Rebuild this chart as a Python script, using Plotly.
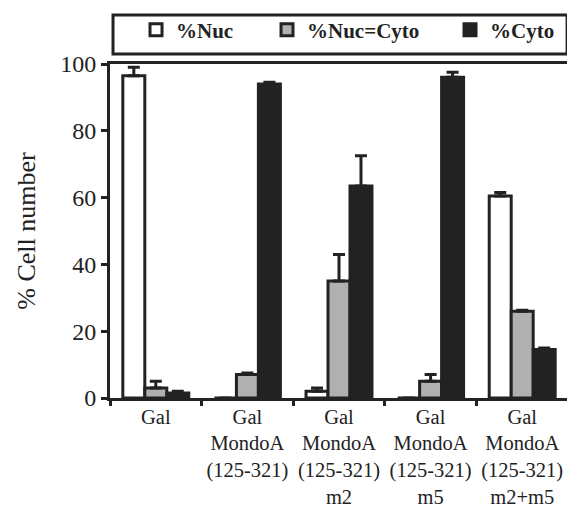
import plotly.graph_objects as go

categories = ["Gal",
              "Gal<br>MondoA<br>(125-321)",
              "Gal<br>MondoA<br>(125-321)<br>m2",
              "Gal<br>MondoA<br>(125-321)<br>m5",
              "Gal<br>MondoA<br>(125-321)<br>m2+m5"]
series_names = ["%Nuc", "%Nuc=Cyto", "%Cyto"]
nuc = [96.5, 0, 2, 0, 60.5]
nuc_err = [2.5, 0, 1, 0, 1]
both = [3, 7, 35, 5, 26]
both_err = [2, 0.5, 8, 2, 0.3]
cyto = [1.5, 94, 63.5, 96, 14.5]
cyto_err = [0.5, 0.5, 9, 1.5, 0.5]
yticks = [0, 20, 40, 60, 80, 100]

DARK = "#222222"
SERIF = "Liberation Serif, Times New Roman, Times, serif"
fills = ["#ffffff", "#b0b0b0", "#222222"]
vals = [nuc, both, cyto]
errs = [nuc_err, both_err, cyto_err]
lw = [86, 138, 60]

fig = go.Figure()
for name, v, e, c, w in zip(series_names, vals, errs, fills, lw):
    fig.add_trace(go.Bar(
        x=categories, y=v, name=name,
        marker=dict(color=c, line=dict(color=DARK, width=3)),
        error_y=dict(type="data", symmetric=False, array=e,
                     arrayminus=[0] * len(e), color=DARK, thickness=3, width=6),
        legendwidth=w,
    ))

fig.update_layout(
    width=575, height=508,
    margin=dict(l=102, r=15, t=56, b=118, autoexpand=False),
    plot_bgcolor="white", paper_bgcolor="white",
    barmode="group", bargap=0.28, bargroupgap=0,
    font=dict(family=SERIF, size=20, color=DARK),
    showlegend=True,
    legend=dict(orientation="h", x=0.0568, xanchor="left", y=1.1018, yanchor="middle",
                borderwidth=0, bgcolor="rgba(0,0,0,0)",
                font=dict(family=SERIF, size=21, color=DARK, weight="bold"),
                traceorder="normal"),
    shapes=[dict(type="rect", xref="paper", yref="paper",
                 x0=0.0066, x1=0.998, y0=1.0299, y1=1.1467,
                 line=dict(color=DARK, width=3), fillcolor="rgba(0,0,0,0)", layer="above")],
)
fig.update_xaxes(showline=True, linecolor=DARK, linewidth=3, mirror=True, automargin=False,
                 ticks="outside", tickson="boundaries", ticklen=5, tickwidth=3, tickangle=0,
                 ticklabelstandoff=-2,
                 tickcolor=DARK, tickfont=dict(family=SERIF, size=20.5), showgrid=False)
fig.update_yaxes(range=[0, 100], tickvals=yticks, showline=True, linecolor=DARK, automargin=False,
                 linewidth=3, mirror=True, ticks="outside", ticklen=6, tickwidth=3,
                 tickcolor=DARK, tickfont=dict(family=SERIF, size=24), showgrid=False, zeroline=False,
                 title=dict(text="% Cell number", font=dict(family=SERIF, size=26), standoff=18))

fig.write_html("out.html")
